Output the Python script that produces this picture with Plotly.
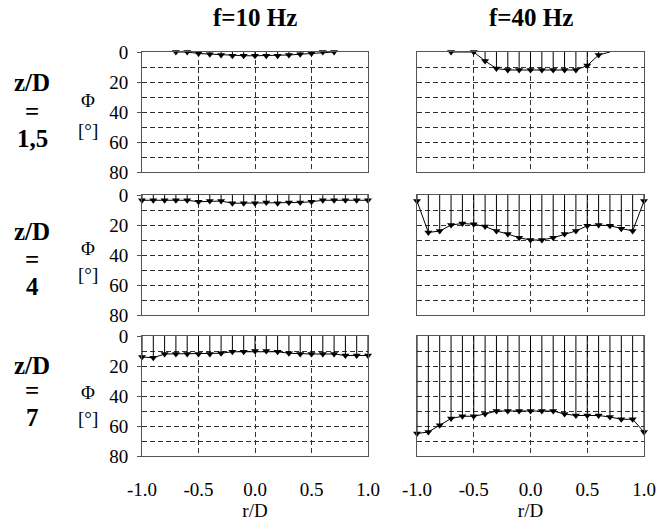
import plotly.graph_objects as go

# ---------------- data ----------------
col_titles = ["f=10 Hz", "f=40 Hz"]
row_labels = ["1,5", "4", "7"]
x_tick_vals = [-1.0, -0.5, 0.0, 0.5, 1.0]
x_tick_text = ["-1.0", "-0.5", "0.0", "0.5", "1.0"]
y_tick_vals = [0, 20, 40, 60, 80]
y_tick_text = ["0", "20", "40", "60", "80"]

r_full = [-1.0, -0.9, -0.8, -0.7, -0.6, -0.5, -0.4, -0.3, -0.2, -0.1, 0.0,
          0.1, 0.2, 0.3, 0.4, 0.5, 0.6, 0.7, 0.8, 0.9, 1.0]

r_f10_z15 = [-0.7, -0.6, -0.5, -0.4, -0.3, -0.2, -0.1, 0.0, 0.1, 0.2, 0.3, 0.4, 0.5, 0.6, 0.7]
phi_f10_z15 = [0, 0, 1, 1.5, 2, 2.5, 2.5, 2.5, 2.5, 2.5, 2, 1.5, 1, 0, 0]

r_f40_z15 = [-0.7, -0.5, -0.4, -0.3, -0.2, -0.1, 0.0, 0.1, 0.2, 0.3, 0.4, 0.5, 0.6, 0.7]
phi_f40_z15 = [0, 0, 6, 11, 12, 12, 12, 12, 12, 12, 12, 9, 2, 0]
marked_f40_z15 = [True] * 13 + [False]

phi_f10_z4 = [3.5, 3.5, 3.5, 3.5, 3.5, 4.5, 4, 4, 5.5, 5.5, 5.5, 5, 5.5, 5, 5, 4.5,
              3.5, 3.5, 3.5, 3.5, 3.5]
phi_f40_z4 = [4, 25, 24, 20, 19, 19.5, 21, 24, 26, 28.5, 30, 30, 28.5, 26, 24, 20.5,
              20, 20.5, 22.5, 24, 4]

phi_f10_z7 = [14, 14.5, 12, 12, 12, 12, 12, 11.5, 10.5, 10.5, 10, 10, 10.5, 11.5, 12,
              12, 12, 12, 13, 13, 13]
phi_f40_z7 = [65, 64, 59.5, 55, 53.5, 53.5, 52, 50, 50, 50, 50, 50, 50, 52, 53, 53, 53,
              54, 55.5, 55.5, 64]

panels = [
    (0, 0, r_f10_z15, phi_f10_z15, None),
    (0, 1, r_f40_z15, phi_f40_z15, marked_f40_z15),
    (1, 0, r_full, phi_f10_z4, None),
    (1, 1, r_full, phi_f40_z4, None),
    (2, 0, r_full, phi_f10_z7, None),
    (2, 1, r_full, phi_f40_z7, None),
]

# ---------------- layout geometry (pixels) ----------------
W, H = 660, 521
col_px = [(142, 368), (417, 644)]
row_px = [(52, 172), (195, 315), (336, 456)]

FONT = "Liberation Serif, Times New Roman, serif"
GRID = "#333333"
BOX = "#555555"

fig = go.Figure()
layout = dict(
    template="none",
    width=W, height=H,
    margin=dict(l=0, r=0, t=0, b=0, autoexpand=False),
    paper_bgcolor="white", plot_bgcolor="white",
    showlegend=False,
    font=dict(family=FONT, size=19, color="black"),
)

for (r, c, xs, ys, marked) in panels:
    n = r * 2 + c + 1
    xa = "x" if n == 1 else f"x{n}"
    ya = "y" if n == 1 else f"y{n}"
    if marked is None:
        marked = [True] * len(xs)
    # vectors (from 0 down to phase) and connecting line
    fig.add_trace(go.Scatter(
        x=xs, y=ys, xaxis=xa, yaxis=ya,
        mode="lines",
        line=dict(color="black", width=1),
        error_y=dict(type="data", symmetric=False,
                     array=[0] * len(ys), arrayminus=ys,
                     width=0, thickness=1, color="black"),
        cliponaxis=False,
        hoverinfo="skip",
    ))
    # vector heads
    fig.add_trace(go.Scatter(
        x=[x for x, m in zip(xs, marked) if m],
        y=[y for y, m in zip(ys, marked) if m],
        xaxis=xa, yaxis=ya,
        mode="markers",
        marker=dict(symbol="triangle-down", size=7, color="black",
                    line=dict(width=0)),
        cliponaxis=False,
        hoverinfo="skip",
    ))
    x0, x1 = col_px[c]
    y0, y1 = row_px[r]
    xkey = "xaxis" if n == 1 else f"xaxis{n}"
    ykey = "yaxis" if n == 1 else f"yaxis{n}"
    bottom = (r == 2)
    layout[xkey] = dict(
        domain=[x0 / W, x1 / W], anchor=ya, range=[-1, 1],
        tickvals=x_tick_vals, ticktext=x_tick_text,
        showticklabels=bottom, ticks="",
        showgrid=True, gridcolor=GRID, griddash="5px,3px", gridwidth=1,
        showline=True, mirror=True, linecolor=BOX, linewidth=1,
        zeroline=False, ticklabelstandoff=16, automargin=False,
        tickfont=dict(family=FONT, size=19, color="black"),
        title=dict(text="r/D" if bottom else "",
                   font=dict(family=FONT, size=19, color="black"), standoff=0),
    )
    left = (c == 0)
    layout[ykey] = dict(
        domain=[1 - y1 / H, 1 - y0 / H], anchor=xa, range=[80, 0],
        tickvals=y_tick_vals, ticktext=y_tick_text,
        showticklabels=left, ticks="outside" if left else "", ticklen=4,
        tickcolor=BOX, automargin=False, ticklabelstandoff=5,
        showgrid=True, gridcolor=GRID, griddash="5px,3px", gridwidth=1,
        minor=dict(dtick=10, tick0=0, showgrid=True, gridcolor=GRID,
                   griddash="5px,3px", gridwidth=1, ticks=""),
        showline=True, mirror=True, linecolor=BOX, linewidth=1,
        zeroline=False,
        tickfont=dict(family=FONT, size=19, color="black"),
    )

annotations = []
# column titles
for c, t in enumerate(col_titles):
    x0, x1 = col_px[c]
    annotations.append(dict(
        text=f"<b>{t}</b>", x=(x0 + x1) / 2 / W, y=1 - 18 / H,
        xref="paper", yref="paper", showarrow=False,
        font=dict(family=FONT, size=25, color="black"),
        xanchor="center", yanchor="middle"))

# row labels
row_line_y = [(82, 111, 138), (232, 259, 286), (365, 390, 417)]
phi_y = [(100, 130), (248, 274), (392, 418)]
for r, lab in enumerate(row_labels):
    for txt, py in zip(["z/D", "=", lab], row_line_y[r]):
        annotations.append(dict(
            text=f"<b>{txt}</b>", x=32 / W, y=1 - py / H,
            xref="paper", yref="paper", showarrow=False,
            font=dict(family=FONT, size=25, color="black"),
            xanchor="center", yanchor="middle"))
    for txt, py in zip(["Φ", "[°]"], phi_y[r]):
        annotations.append(dict(
            text=txt, x=88 / W, y=1 - py / H,
            xref="paper", yref="paper", showarrow=False,
            font=dict(family=FONT, size=19, color="black"),
            xanchor="center", yanchor="middle"))

layout["annotations"] = annotations
fig.update_layout(**layout)
fig.write_html(
    "out.html",
    config={"displayModeBar": False},
    post_script="document.body.style.margin='0';document.body.style.overflow='hidden';",
)
